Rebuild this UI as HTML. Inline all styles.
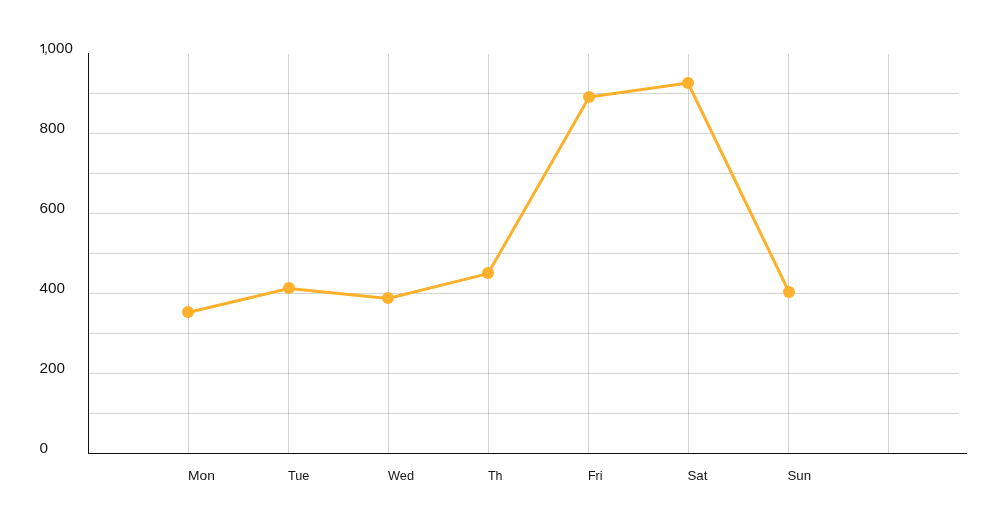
<!DOCTYPE html>
<html><head><meta charset="utf-8">
<style>
html,body{margin:0;padding:0;background:#fff;width:1000px;height:519px;overflow:hidden;}
svg{display:block;will-change:transform;}
text{font-family:"Liberation Sans",sans-serif;font-size:14px;fill:#151515;}
</style></head><body>
<svg width="1000" height="519" viewBox="0 0 1000 519">
<g stroke="#000" stroke-opacity="0.17" stroke-width="1" shape-rendering="crispEdges">
<line x1="89" y1="93.5" x2="959" y2="93.5"/>
<line x1="89" y1="133.5" x2="959" y2="133.5"/>
<line x1="89" y1="173.5" x2="959" y2="173.5"/>
<line x1="89" y1="213.5" x2="959" y2="213.5"/>
<line x1="89" y1="253.5" x2="959" y2="253.5"/>
<line x1="89" y1="293.5" x2="959" y2="293.5"/>
<line x1="89" y1="333.5" x2="959" y2="333.5"/>
<line x1="89" y1="373.5" x2="959" y2="373.5"/>
<line x1="89" y1="413.5" x2="959" y2="413.5"/>
<line x1="188.5" y1="54" x2="188.5" y2="453"/>
<line x1="288.5" y1="54" x2="288.5" y2="453"/>
<line x1="388.5" y1="54" x2="388.5" y2="453"/>
<line x1="488.5" y1="54" x2="488.5" y2="453"/>
<line x1="588.5" y1="54" x2="588.5" y2="453"/>
<line x1="688.5" y1="54" x2="688.5" y2="453"/>
<line x1="788.5" y1="54" x2="788.5" y2="453"/>
<line x1="888.5" y1="54" x2="888.5" y2="453"/>
</g>
<g stroke="#111" stroke-width="1" shape-rendering="crispEdges">
<line x1="88.5" y1="53" x2="88.5" y2="454"/>
<line x1="88" y1="453.5" x2="967" y2="453.5"/>
</g>
<polyline fill="none" stroke="#FCB12C" stroke-width="3" stroke-linejoin="round" points="188,312.5 289,288.5 388,298.5 488,273.6 589.2,97 688,83 789,292"/>
<g fill="#FCB12C">
<circle cx="188" cy="312" r="6"/>
<circle cx="289" cy="288" r="6"/>
<circle cx="388" cy="298" r="6"/>
<circle cx="488" cy="273" r="6"/>
<circle cx="589" cy="97" r="6"/>
<circle cx="688" cy="83" r="6"/>
<circle cx="789" cy="292" r="6"/>
</g>
<path d="M40.4,45.6 L42.8,44 L44,44 L44,53 L42.8,53 L42.8,45.8 L40.4,46.8 Z" fill="#222"/><text x="44" y="53">,</text><text x="47.6" y="53" textLength="25.2" lengthAdjust="spacingAndGlyphs">000</text>
<text x="39.5" y="133" textLength="25.5" lengthAdjust="spacingAndGlyphs">800</text>
<text x="39.5" y="213" textLength="25.5" lengthAdjust="spacingAndGlyphs">600</text>
<text x="39.5" y="293" textLength="25.5" lengthAdjust="spacingAndGlyphs">400</text>
<text x="39.5" y="373" textLength="25.5" lengthAdjust="spacingAndGlyphs">200</text>
<text x="39.5" y="453" textLength="8.6" lengthAdjust="spacingAndGlyphs">0</text>
<text x="188" y="480" style="font-size:13.3px" textLength="26.88" lengthAdjust="spacingAndGlyphs">Mon</text>
<text x="288" y="480" style="font-size:13.3px" textLength="21.42" lengthAdjust="spacingAndGlyphs">Tue</text>
<text x="388" y="480" style="font-size:13.3px" textLength="26.11" lengthAdjust="spacingAndGlyphs">Wed</text>
<text x="488" y="480" style="font-size:13.3px" textLength="14.53" lengthAdjust="spacingAndGlyphs">Th</text>
<text x="588" y="480" style="font-size:13.3px" textLength="14.52" lengthAdjust="spacingAndGlyphs">Fri</text>
<text x="687.5" y="480" style="font-size:13.3px" textLength="19.97" lengthAdjust="spacingAndGlyphs">Sat</text>
<text x="787.5" y="480" style="font-size:13.3px" textLength="23.67" lengthAdjust="spacingAndGlyphs">Sun</text>
</svg>
</body></html>
